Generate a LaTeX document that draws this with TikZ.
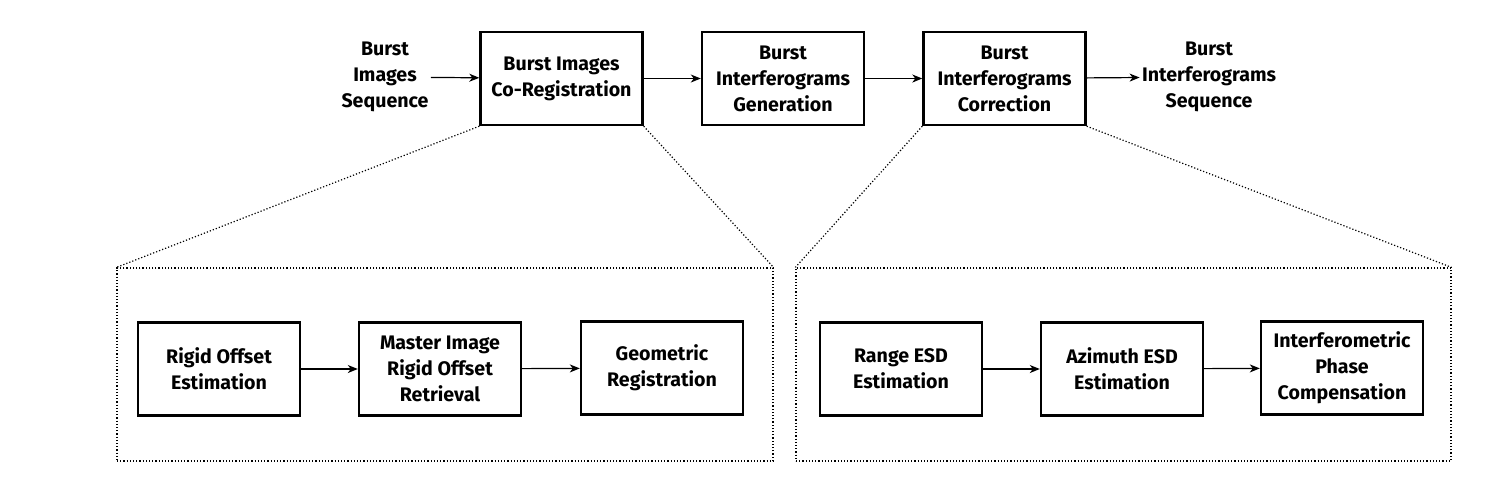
\documentclass[tikz,border=0pt]{standalone}
\usepackage{fontspec}
\setmainfont{Fira Sans}
\usetikzlibrary{arrows.meta}
\tikzstyle{block}=[draw,line width=1.2pt,minimum width=81pt,minimum height=46.5pt,inner sep=0pt,align=center,font=\bfseries\fontsize{9.8}{13}\selectfont]
\tikzstyle{iotext}=[align=center,inner sep=1pt,font=\bfseries\fontsize{9.8}{13}\selectfont]
\tikzstyle{zoomframe}=[draw,densely dotted,line width=0.6pt,inner sep=0pt]
\tikzstyle{flow}=[line width=0.6pt,-{Stealth[length=5pt,width=4pt,inset=1.5pt]}]

\begin{document}
\begin{tikzpicture}[x=0.5pt,y=-0.5pt]
\useasboundingbox (0,0) rectangle (1493,489);
% top chain
\node[iotext] at (385,77) (input) {Burst\\Images\\Sequence};
\node[block] at (561.5,78.5) (coreg) {Burst Images\\Co-Registration};
\node[block] at (783,78.5) (gen) {Burst\\Interferograms\\Generation};
\node[block] at (1004.5,78.5) (corr) {Burst\\Interferograms\\Correction};
\node[iotext] at (1209,77) (output) {Burst\\Interferograms\\Sequence};
\draw[flow] (input) -- (coreg);
\draw[flow] (coreg) -- (gen);
\draw[flow] (gen) -- (corr);
\draw[flow] (corr) -- (output);
% zoomed frames
\node[zoomframe,minimum width=328pt,minimum height=96.5pt] at (445,364.5) (coregzoom) {};
\node[zoomframe,minimum width=327.5pt,minimum height=96.5pt] at (1123.5,364.5) (corrzoom) {};
\draw[zoomframe] (coreg.south west) -- (coregzoom.north west);
\draw[zoomframe] (coreg.south east) -- (coregzoom.north east);
\draw[zoomframe] (corr.south west) -- (corrzoom.north west);
\draw[zoomframe] (corr.south east) -- (corrzoom.north east);
% co-registration steps
\node[block] at (219,369) (rigid) {Rigid Offset\\Estimation};
\node[block] at (440,369) (master) {Master Image\\Rigid Offset\\Retrieval};
\node[block] at (662,368) (geom) {Geometric\\Registration};
\draw[flow] (rigid) -- (master);
\draw[flow] (master) -- (geom);
% correction steps
\node[block] at (901,369) (range) {Range ESD\\Estimation};
\node[block] at (1122,369) (azimuth) {Azimuth ESD\\Estimation};
\node[block] at (1342,368) (phase) {Interferometric\\Phase\\Compensation};
\draw[flow] (range) -- (azimuth);
\draw[flow] (azimuth) -- (phase);
\end{tikzpicture}
\end{document}
